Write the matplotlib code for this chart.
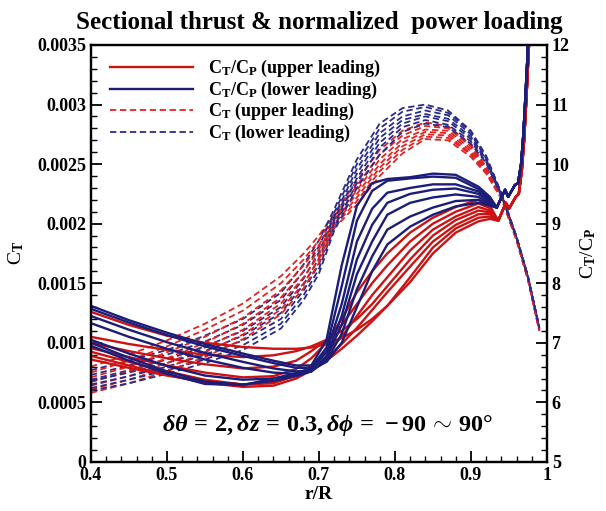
import matplotlib
matplotlib.use('Agg')
import matplotlib.pyplot as plt
from matplotlib.lines import Line2D
from matplotlib.ticker import FixedLocator, MultipleLocator

plt.rcParams['font.family'] = ['Liberation Serif', 'DejaVu Serif']
plt.rcParams['font.weight'] = 'bold'
plt.rcParams['mathtext.fontset'] = 'custom'
plt.rcParams['mathtext.rm'] = 'Liberation Serif:bold'
plt.rcParams['mathtext.it'] = 'Liberation Serif:italic:bold'
plt.rcParams['mathtext.bf'] = 'Liberation Serif:bold'

# ---------------- data ----------------
title = "Sectional thrust & normalized  power loading"
x_label = "r/R"

x_ticks = [0.4, 0.5, 0.6, 0.7, 0.8, 0.9, 1.0]
x_tick_labels = ["0.4", "0.5", "0.6", "0.7", "0.8", "0.9", "1"]
ct_ticks = [0, 0.0005, 0.001, 0.0015, 0.002, 0.0025, 0.003, 0.0035]
ct_tick_labels = ["0", "0.0005", "0.001", "0.0015", "0.002", "0.0025", "0.003", "0.0035"]
ratio_ticks = [5, 6, 7, 8, 9, 10, 11, 12]
ratio_tick_labels = ["5", "6", "7", "8", "9", "10", "11", "12"]

# C_T (dashed, left axis)
x_ct = [0.40, 0.45, 0.50, 0.55, 0.60, 0.65, 0.68, 0.70, 0.72, 0.75, 0.78, 0.81,
        0.84, 0.87, 0.90, 0.92, 0.941, 0.96, 0.975, 0.99]
ct_upper = [
    [0.00080, 0.00090, 0.00102, 0.00116, 0.00133, 0.00156, 0.00175, 0.00190, 0.00208, 0.00236, 0.00262, 0.00278, 0.00285, 0.00282, 0.00266, 0.00248, 0.00222, 0.00188, 0.00155, 0.00112],
    [0.00075, 0.00085, 0.00097, 0.00111, 0.00127, 0.00150, 0.00170, 0.00186, 0.00206, 0.00232, 0.00258, 0.00274, 0.00282, 0.00280, 0.00265, 0.00247, 0.00222, 0.00188, 0.00155, 0.00112],
    [0.00071, 0.00080, 0.00092, 0.00105, 0.00121, 0.00144, 0.00165, 0.00182, 0.00204, 0.00228, 0.00254, 0.00271, 0.00279, 0.00278, 0.00263, 0.00246, 0.00221, 0.00187, 0.00154, 0.00111],
    [0.00067, 0.00076, 0.00087, 0.00100, 0.00116, 0.00138, 0.00160, 0.00178, 0.00202, 0.00225, 0.00250, 0.00268, 0.00277, 0.00276, 0.00261, 0.00245, 0.00221, 0.00187, 0.00154, 0.00111],
    [0.00064, 0.00072, 0.00083, 0.00096, 0.00111, 0.00133, 0.00155, 0.00174, 0.00200, 0.00222, 0.00247, 0.00265, 0.00275, 0.00274, 0.00259, 0.00244, 0.00221, 0.00187, 0.00154, 0.00111],
    [0.00061, 0.00069, 0.00079, 0.00092, 0.00107, 0.00128, 0.00150, 0.00170, 0.00198, 0.00219, 0.00244, 0.00262, 0.00273, 0.00272, 0.00258, 0.00243, 0.00220, 0.00186, 0.00153, 0.00110],
    [0.00058, 0.00066, 0.00076, 0.00088, 0.00103, 0.00124, 0.00146, 0.00167, 0.00196, 0.00216, 0.00240, 0.00259, 0.00271, 0.00270, 0.00256, 0.00242, 0.00220, 0.00186, 0.00153, 0.00110],
]
ct_lower = [
    [0.00077, 0.00085, 0.00094, 0.00106, 0.00120, 0.00142, 0.00166, 0.00186, 0.00212, 0.00254, 0.00284, 0.00297, 0.00300, 0.00295, 0.00278, 0.00257, 0.00224, 0.00189, 0.00156, 0.00113],
    [0.00073, 0.00081, 0.00090, 0.00101, 0.00115, 0.00136, 0.00160, 0.00181, 0.00209, 0.00250, 0.00280, 0.00294, 0.00298, 0.00293, 0.00277, 0.00256, 0.00224, 0.00189, 0.00156, 0.00113],
    [0.00069, 0.00077, 0.00086, 0.00097, 0.00110, 0.00130, 0.00154, 0.00176, 0.00206, 0.00246, 0.00276, 0.00290, 0.00295, 0.00291, 0.00275, 0.00255, 0.00223, 0.00189, 0.00156, 0.00113],
    [0.00068, 0.00075, 0.00083, 0.00093, 0.00106, 0.00125, 0.00149, 0.00171, 0.00203, 0.00242, 0.00272, 0.00287, 0.00292, 0.00288, 0.00273, 0.00254, 0.00223, 0.00188, 0.00155, 0.00112],
    [0.00065, 0.00072, 0.00080, 0.00090, 0.00102, 0.00120, 0.00144, 0.00166, 0.00200, 0.00238, 0.00268, 0.00284, 0.00290, 0.00286, 0.00271, 0.00253, 0.00223, 0.00188, 0.00155, 0.00112],
    [0.00062, 0.00069, 0.00077, 0.00086, 0.00098, 0.00116, 0.00140, 0.00162, 0.00197, 0.00234, 0.00264, 0.00281, 0.00287, 0.00283, 0.00269, 0.00252, 0.00222, 0.00188, 0.00155, 0.00112],
    [0.00060, 0.00066, 0.00074, 0.00083, 0.00094, 0.00112, 0.00136, 0.00158, 0.00194, 0.00230, 0.00258, 0.00277, 0.00284, 0.00281, 0.00267, 0.00251, 0.00222, 0.00188, 0.00155, 0.00112],
]

# C_T/C_P (solid, right axis)
x_ratio = [0.40, 0.45, 0.50, 0.55, 0.60, 0.64, 0.67, 0.69, 0.71, 0.73, 0.75, 0.77,
           0.79, 0.82, 0.85, 0.88, 0.91, 0.925]
ratio_upper = [
    [6.91, 6.76, 6.62, 6.50, 6.42, 6.44, 6.56, 6.74, 7.00, 7.40, 7.85, 8.20, 8.50, 8.85, 9.10, 9.28, 9.40, 9.30],
    [7.00, 6.86, 6.74, 6.64, 6.57, 6.60, 6.70, 6.86, 7.05, 7.30, 7.65, 8.00, 8.30, 8.70, 9.00, 9.20, 9.34, 9.26],
    [6.85, 6.68, 6.52, 6.38, 6.30, 6.32, 6.45, 6.62, 6.85, 7.10, 7.45, 7.80, 8.10, 8.55, 8.90, 9.12, 9.28, 9.22],
    [7.10, 6.98, 6.88, 6.80, 6.76, 6.79, 6.86, 6.94, 7.05, 7.20, 7.40, 7.65, 7.95, 8.40, 8.80, 9.06, 9.22, 9.19],
    [6.78, 6.62, 6.46, 6.33, 6.26, 6.28, 6.40, 6.54, 6.74, 6.98, 7.25, 7.55, 7.85, 8.28, 8.70, 8.98, 9.16, 9.16],
    [7.52, 7.30, 7.12, 7.00, 6.93, 6.90, 6.90, 6.92, 6.98, 7.08, 7.22, 7.40, 7.62, 8.10, 8.60, 8.92, 9.10, 9.12],
    [6.72, 6.58, 6.45, 6.35, 6.30, 6.34, 6.45, 6.56, 6.70, 6.90, 7.12, 7.36, 7.62, 8.02, 8.50, 8.85, 9.04, 9.08],
]
ratio_lower = [
    [7.62, 7.38, 7.17, 6.98, 6.82, 6.70, 6.62, 6.62, 7.05, 8.30, 9.30, 9.68, 9.75, 9.78, 9.84, 9.82, 9.62, 9.45],
    [7.57, 7.34, 7.13, 6.94, 6.78, 6.66, 6.58, 6.58, 6.92, 7.95, 9.05, 9.55, 9.72, 9.76, 9.79, 9.77, 9.58, 9.43],
    [7.45, 7.22, 7.01, 6.83, 6.68, 6.57, 6.52, 6.54, 6.85, 7.65, 8.70, 9.25, 9.52, 9.60, 9.66, 9.66, 9.54, 9.40],
    [7.33, 7.10, 6.90, 6.72, 6.58, 6.50, 6.48, 6.52, 6.78, 7.45, 8.40, 8.98, 9.35, 9.50, 9.57, 9.59, 9.50, 9.37],
    [7.05, 6.82, 6.61, 6.45, 6.38, 6.40, 6.46, 6.52, 6.75, 7.30, 8.15, 8.70, 9.15, 9.35, 9.44, 9.49, 9.45, 9.34],
    [7.00, 6.75, 6.52, 6.35, 6.30, 6.36, 6.44, 6.52, 6.70, 7.15, 7.90, 8.45, 8.90, 9.12, 9.27, 9.38, 9.40, 9.32],
    [6.95, 6.70, 6.48, 6.31, 6.29, 6.40, 6.49, 6.55, 6.68, 7.00, 7.60, 8.20, 8.65, 8.95, 9.15, 9.29, 9.35, 9.30],
]
# common tip behaviour
x_tip_upper = [0.936, 0.946, 0.950, 0.959, 0.963, 0.967, 0.970, 0.973, 0.976, 0.978]
ratio_tip_upper = [9.05, 9.35, 9.25, 9.45, 9.50, 9.90, 10.40, 11.10, 11.90, 12.40]
x_tip_lower = [0.934, 0.945, 0.949, 0.958, 0.962, 0.966, 0.969, 0.971, 0.974, 0.976]
ratio_tip_lower = [9.27, 9.57, 9.45, 9.65, 9.68, 10.00, 10.50, 10.96, 11.70, 12.30]

labels = [r"C$_\mathrm{T}$/C$_\mathrm{P}$ (upper leading)",
          r"C$_\mathrm{T}$/C$_\mathrm{P}$ (lower leading)",
          r"C$_\mathrm{T}$ (upper leading)",
          r"C$_\mathrm{T}$ (lower leading)"]
annotation = r"$\delta\theta\,=\,2, \delta z\,=\,0.3, \delta\phi\,=\,-90\,\sim\,90\degree$"

# ---------------- style ----------------
RED = '#cc1212'
BLUE = '#1b1d78'
RED_D = '#e02424'
BLUE_D = '#2a2c88'
DASH = (0, (3.5, 2.0))

fig = plt.figure(figsize=(6.06, 5.11), dpi=100)
ax = fig.add_axes([0.150, 0.096, 0.7525, 0.816])
ax2 = ax.twinx()

# dashed C_T
for cu, cl in zip(ct_upper, ct_lower):
    ax.plot(x_ct, cu, color=RED_D, lw=1.3, linestyle=DASH)
    ax.plot(x_ct, cl, color=BLUE_D, lw=1.3, linestyle=DASH)

# solid C_T/C_P
for r in ratio_upper:
    ax2.plot(x_ratio + x_tip_upper, r + ratio_tip_upper, color=RED, lw=1.7)
for r in ratio_lower:
    ax2.plot(x_ratio + x_tip_lower, r + ratio_tip_lower, color=BLUE, lw=1.7)

ax.set_xlim(0.4, 1.0)
ax.set_ylim(0, 0.0035)
ax2.set_ylim(5, 12)

ax.xaxis.set_major_locator(FixedLocator(x_ticks))
ax.set_xticklabels(x_tick_labels)
ax.xaxis.set_minor_locator(MultipleLocator(0.02))
ax.yaxis.set_major_locator(FixedLocator(ct_ticks))
ax.set_yticklabels(ct_tick_labels)
ax.yaxis.set_minor_locator(MultipleLocator(0.0001))
ax2.yaxis.set_major_locator(FixedLocator(ratio_ticks))
ax2.set_yticklabels(ratio_tick_labels)
ax2.yaxis.set_minor_locator(MultipleLocator(0.2))

for a in (ax, ax2):
    for s in a.spines.values():
        s.set_linewidth(1.6)
ax.tick_params(axis='x', which='both', direction='in', top=False, bottom=True,
               labelsize=13, pad=4)
ax.tick_params(axis='y', which='both', direction='in', left=True, right=False,
               labelsize=13)
ax2.tick_params(axis='y', which='both', direction='in', left=False, right=True,
                labelsize=13)
for a in (ax, ax2):
    a.tick_params(which='major', length=8, width=1.3)
    a.tick_params(which='minor', length=4, width=1.0)

ax.set_xlabel(x_label, fontsize=14, fontweight='bold', labelpad=1)
ax.set_ylabel(r"C$_\mathrm{T}$", fontsize=14, labelpad=8)
ax2.set_ylabel(r"C$_\mathrm{T}$/C$_\mathrm{P}$", fontsize=14, labelpad=6)

fig.text(0.527, 0.955, title, ha='center', va='center', fontsize=18, fontweight='bold')

handles = [Line2D([], [], color=RED, lw=1.7),
           Line2D([], [], color=BLUE, lw=1.7),
           Line2D([], [], color=RED_D, lw=1.3, linestyle=DASH),
           Line2D([], [], color=BLUE_D, lw=1.3, linestyle=DASH)]
ax2.legend(handles, labels, loc='upper left', bbox_to_anchor=(0.042, 0.968),
           frameon=False, fontsize=13, handlelength=4.6, handletextpad=0.8,
           labelspacing=0.02, borderaxespad=0, borderpad=0)

ax.text(0.52, 0.087, annotation, transform=ax.transAxes, ha='center', va='center',
        fontsize=17.5)

fig.savefig('out.png', dpi=100)
